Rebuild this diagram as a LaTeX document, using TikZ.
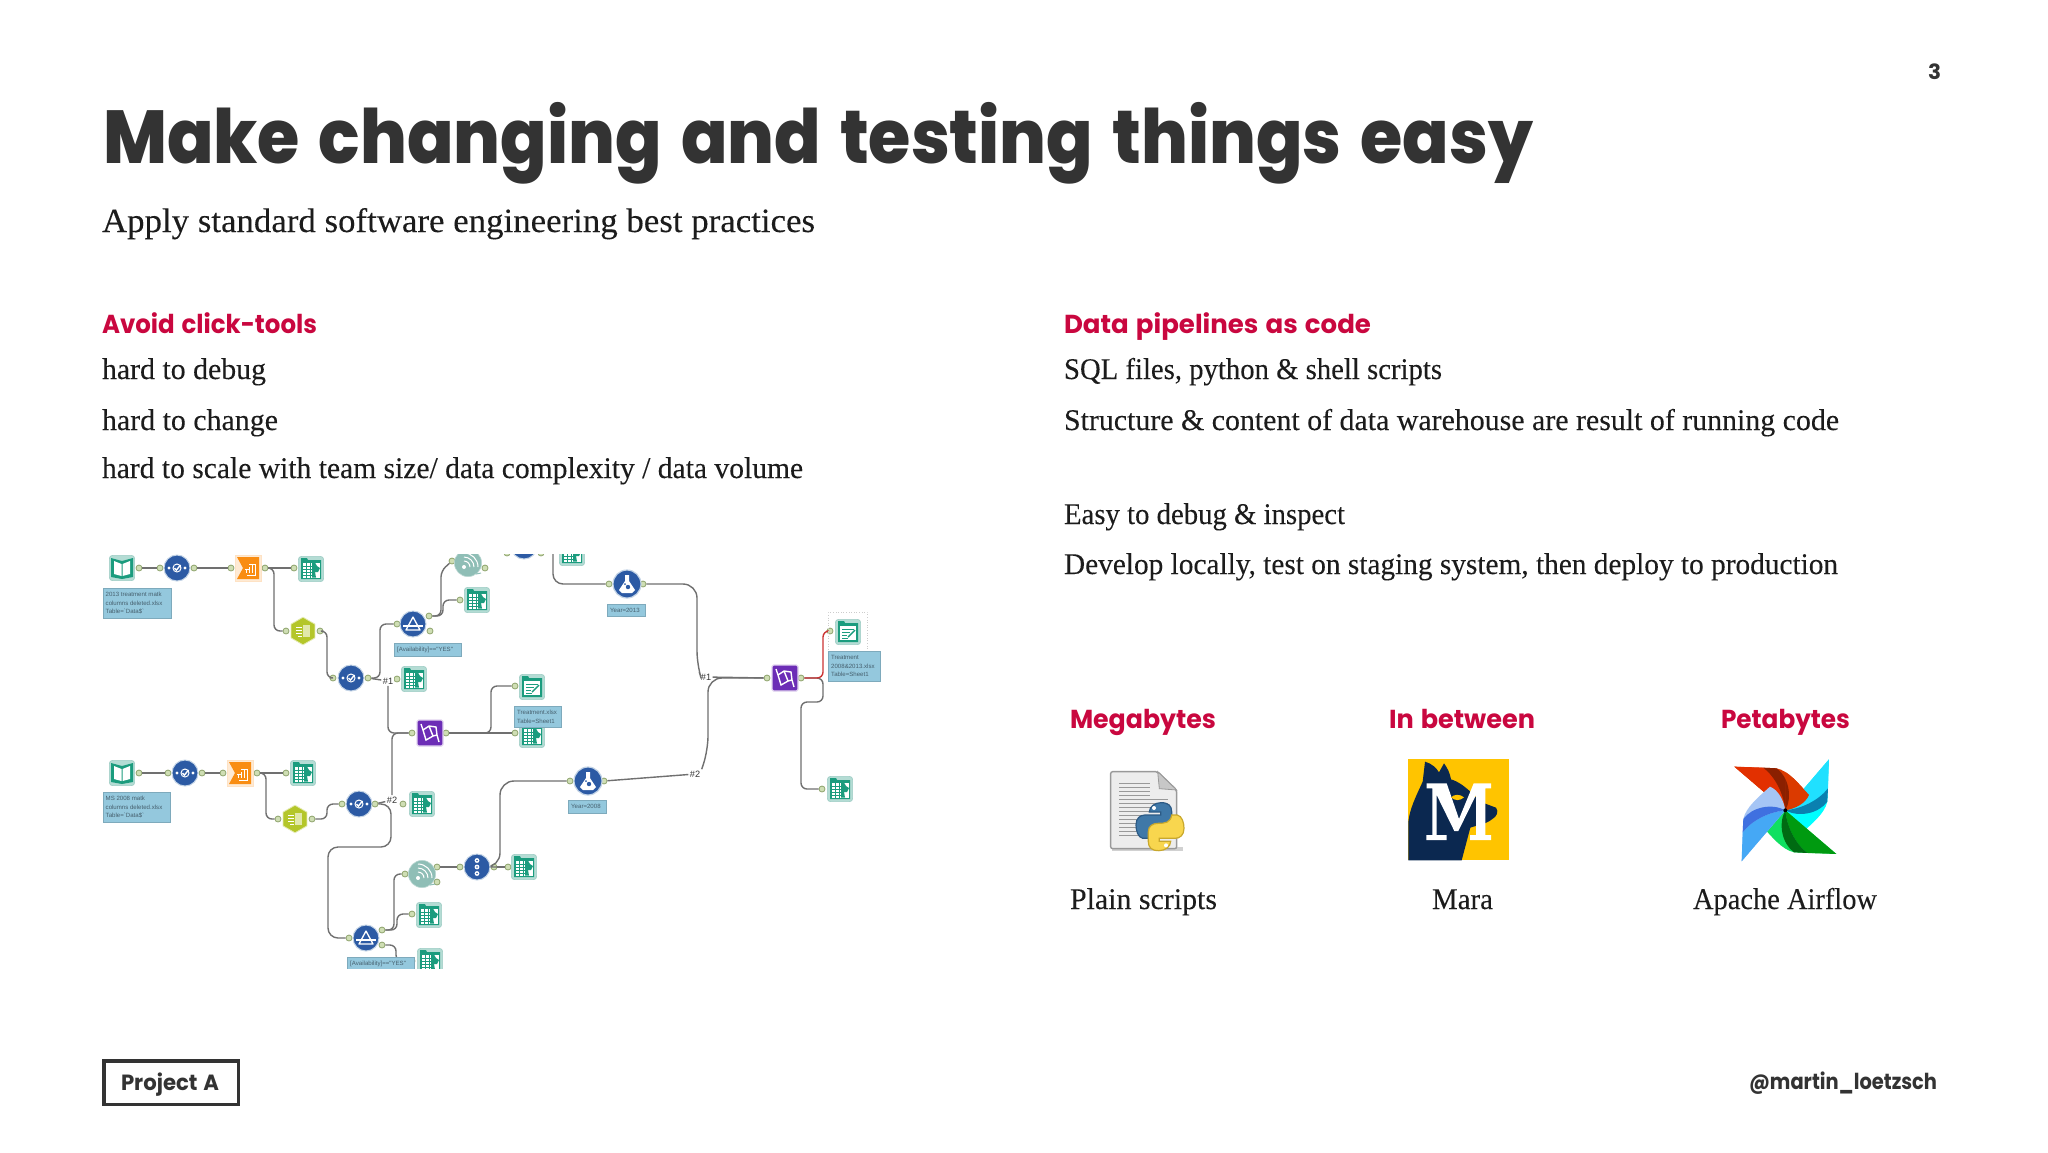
\documentclass[tikz,border=0pt]{standalone}
\usepackage{graphicx}
\usepackage{fontspec}
\setmainfont{Liberation Serif}[FakeBold=0.12]
\newfontfamily\heavy{Poppins}[UprightFont=* ExtraBold,WordSpace=1.45]
\newfontfamily\semi{Poppins}[UprightFont=* Bold,WordSpace=1.3]
\newfontfamily\notef{Liberation Sans}
\usetikzlibrary{shapes.geometric}
\definecolor{ink}{HTML}{333333}
\definecolor{crim}{HTML}{C9073F}
\definecolor{bodyc}{HTML}{1C1C1C}
\definecolor{wirec}{HTML}{707070}
\definecolor{tabbg}{HTML}{B4DCD4}
\definecolor{tabedge}{HTML}{9CCBC3}
\definecolor{teal1}{HTML}{1B9C7E}
\definecolor{blue1}{HTML}{2C5AA4}
\definecolor{halo}{HTML}{C4D4E6}
\definecolor{orange1}{HTML}{F98D12}
\definecolor{lime1}{HTML}{B4C62A}
\definecolor{purple1}{HTML}{6C2DB6}
\definecolor{spiralc}{HTML}{8FBEB6}
\definecolor{notebg}{HTML}{94C8DD}
\definecolor{notetx}{HTML}{46606E}
\definecolor{portf}{HTML}{CFDEB4}
\definecolor{porte}{HTML}{8FA46E}
\definecolor{maray}{HTML}{FFC400}
\definecolor{maran}{HTML}{0B2850}
\definecolor{pyb}{HTML}{3F78A8}
\definecolor{pybe}{HTML}{2C5A85}
\definecolor{pyy}{HTML}{F8D64E}
\definecolor{pyye}{HTML}{C9A82C}
\definecolor{wr1}{HTML}{E23000}
\definecolor{wr2}{HTML}{8B2000}
\definecolor{wr3}{HTML}{DB3A00}
\definecolor{wc1}{HTML}{20E0FF}
\definecolor{wc2}{HTML}{0A80B0}
\definecolor{wc3}{HTML}{00FFFF}
\definecolor{wg1}{HTML}{009A10}
\definecolor{wg2}{HTML}{006B12}
\definecolor{wg3}{HTML}{10E060}
\definecolor{wb1}{HTML}{45A8F5}
\definecolor{wb2}{HTML}{3F70E0}
\definecolor{wb3}{HTML}{A5C5F5}
\newcommand\fitw[2]{\setbox0=\hbox{#2}\pgfmathsetmacro\fitff{#1*0.5/\the\wd0}\scalebox{\fitff}[1]{\box0}}
\tikzset{
  txt/.style={anchor=base west,inner sep=0pt,outer sep=0pt},
  wire/.style={draw=wirec,line width=.7pt,rounded corners=3pt},
  portn/.style={circle,inner sep=0pt,minimum size=3pt,fill=portf,draw=porte,line width=.4pt},
  iconbg/.style={rectangle,rounded corners=1.5pt,minimum size=12.6pt,inner sep=0pt,fill=tabbg,draw=tabedge,line width=.3pt},
  notebox/.style={anchor=north west,inner sep=0pt,fill=notebg,draw=notebg!85!black,line width=.2pt},
  lbl/.style={inner sep=.6pt,fill=white,font=\notef\fontsize{4.6}{5.5}\selectfont,text=ink},
}
\newcommand\noteb[6]{% name,x1,y1,w,h,text
  \node[notebox,minimum width=#4*.5pt,minimum height=#5*.5pt] (#1) at (#2,#3) {};
  \node[anchor=west,inner sep=0pt,align=left,text=notetx,font=\notef\fontsize{3.05}{4.2}\selectfont] at ([xshift=1.4pt]#1.west) {#6};}
\newcommand\tabicon[3]{\node[iconbg] (#1) at (#2,#3) {};
  \begin{scope}[shift={(#2,#3)}]
   \fill[teal1] (-10,-11) -- (-4,-11) -- (-3,-9) -- (10,-9) -- (10,10) -- (-10,10) -- cycle;
   \fill[white] (-8.5,-6.5) rectangle (8.5,8.5);
   \foreach \yy in {-3,0,3,6}{\draw[teal1,line width=.3pt] (-8.5,\yy) -- (1,\yy);}
   \foreach \xx in {-5,-1}{\draw[teal1,line width=.3pt] (\xx,-6.5) -- (\xx,8.5);}
   \fill[teal1] (1,-6.5) -- (4,-6.5) -- (6,-3) -- (9,-1) -- (7,3) -- (4,3) -- (5,8.5) -- (1,8.5) -- cycle;
  \end{scope}}
\newcommand\bookicon[3]{\node[iconbg] (#1) at (#2,#3) {};
  \begin{scope}[shift={(#2,#3)}]
   \fill[teal1] (-11,-10) -- (0,-7) -- (11,-10) -- (11,9) -- (0,11) -- (-11,9) -- cycle;
   \fill[white] (-8,-7) -- (-.5,-4) -- (-.5,8) -- (-8,6) -- cycle;
   \fill[white] (8,-7) -- (.5,-4) -- (.5,8) -- (8,6) -- cycle;
  \end{scope}}
\newcommand\selicon[3]{\node[circle,inner sep=0pt,minimum size=13pt,fill=blue1,draw=halo,line width=.5pt] (#1) at (#2,#3) {};
  \begin{scope}[shift={(#2,#3)}]
   \fill[white] (-8,0) circle (1.7) (8,0) circle (1.7);
   \draw[white,line width=.5pt] (0,0) circle (4);
   \draw[white,line width=.7pt] (-2.5,0) -- (-.5,2) -- (3.5,-3);
  \end{scope}}
\newcommand\orangeicon[3]{\node[rectangle,inner sep=0pt,minimum size=13pt,fill=orange1!18,draw=orange1!25,line width=.3pt] (#1) at (#2,#3) {};
  \begin{scope}[shift={(#2,#3)}]
   \fill[orange1] (-11,-11) -- (11,-11) -- (11,11) -- (-11,11) -- (-5,0) -- cycle;
   \foreach \xx/\yy in {-2/2,1/-1,4/-4}{\draw[white,line width=.35pt] (\xx,5) -- (\xx,\yy);}
   \draw[white,line width=.35pt] (-3,1) -- (2,1) (1,-4) -- (7,-4) -- (7,7) -- (-1,7);
  \end{scope}}
\newcommand\hexicon[3]{\node[regular polygon,regular polygon sides=6,shape border rotate=30,inner sep=0pt,minimum size=13.8pt,fill=lime1,draw=lime1!35,line width=.4pt] (#1) at (#2,#3) {};
  \begin{scope}[shift={(#2,#3)}]
   \draw[white,line width=.5pt] (-7,-4) -- (-1,-4) (-7,-1) -- (-1,-1) (-7,2) -- (-1,2) (-5,5) -- (-1,5);
   \fill[lime1!40!white] (0,-6) rectangle (7,6);
  \end{scope}}
\newcommand\filticon[3]{\node[circle,inner sep=0pt,minimum size=13pt,fill=blue1,draw=halo,line width=.5pt] (#1) at (#2,#3) {};
  \begin{scope}[shift={(#2,#3)}]
   \draw[white,line width=.65pt,line join=round] (0,-7) -- (-7,6) -- (7,6) -- cycle;
   \draw[white,line width=.65pt] (-10,2) -- (10,2);
  \end{scope}}
\newcommand\flaskicon[3]{\node[circle,inner sep=0pt,minimum size=14pt,fill=blue1,draw=halo,line width=.6pt] (#1) at (#2,#3) {};
  \begin{scope}[shift={(#2,#3)}]
   \fill[white] (-2,-9) -- (2,-9) -- (2,-3) -- (8,6) -- (5,9) -- (-5,9) -- (-8,6) -- (-2,-3) -- cycle;
   \fill[blue1] (1,3) circle (2.2) (-2,0) circle (1);
  \end{scope}}
\newcommand\spiralicon[3]{\node[circle,inner sep=0pt,minimum size=13.6pt,fill=spiralc,draw=spiralc!60,line width=.3pt] (#1) at (#2,#3) {};
  \begin{scope}[shift={(#2,#3)}]
   \fill[white] (-4,4) circle (2);
   \draw[white,line width=.5pt] (-4,4) ++(-90:6) arc[start angle=-90,end angle=0,radius=6];
   \draw[white,line width=.5pt] (-4,4) ++(-90:10) arc[start angle=-90,end angle=0,radius=10];
   \draw[white,line width=.5pt] (-4,4) ++(-90:14) arc[start angle=-90,end angle=0,radius=14];
   \draw[spiralc,line width=.5pt] (8,11) -- (13,10);
  \end{scope}}
\newcommand\dotsicon[3]{\node[circle,inner sep=0pt,minimum size=13pt,fill=blue1,draw=halo,line width=.5pt] (#1) at (#2,#3) {};
  \begin{scope}[shift={(#2,#3)}]
   \fill[white] (0,-6.5) circle (2.4) (0,0) circle (2.4) (0,6.5) circle (2.4);
   \fill[blue1] (0,-6.5) circle (.9) (0,0) circle (.9) (0,6.5) circle (.9);
  \end{scope}}
\newcommand\purpicon[3]{\node[rectangle,rounded corners=.8pt,inner sep=0pt,minimum size=13pt,fill=purple1,draw=purple1!20,line width=.6pt] (#1) at (#2,#3) {};
  \begin{scope}[shift={(#2,#3)}]
   \draw[white,line width=.7pt] (-9,-9) -- (-7,-3) -- (-4,7) -- (3,3) -- (7,2) -- (9,9) (-7,-3) -- (-1,-7) -- (6,-6) -- (7,2) (-1,-7) -- (3,3);
  \end{scope}}
\newcommand\outicon[3]{\node[iconbg] (#1) at (#2,#3) {};
  \begin{scope}[shift={(#2,#3)}]
   \fill[teal1] (-10,-11) -- (-4,-11) -- (-3,-9) -- (10,-9) -- (10,10) -- (-10,10) -- cycle;
   \fill[white] (-8,-6.5) rectangle (8,8);
   \draw[teal1,line width=.45pt] (-6,-3) -- (6,-3) (-6,0) -- (2,0) (-6,3) -- (-1,3) (-6,6) -- (0,6);
   \draw[teal1,line width=.7pt] (0,5) -- (7,-2);
  \end{scope}}
\newcommand\port[3]{\node[portn] (#1) at (#2,#3) {};}
\newcommand\blade[3]{%
  \fill[#3] (-153,-131) .. controls (-100,-128) and (-60,-128) .. (-26,-126) .. controls (10,-118) and (40,-80) .. (71,-46) .. controls (60,-20) and (30,-5) .. (0,0) -- cycle;
  \fill[#1] (-153,-131) -- (-66,-128) .. controls (-30,-100) and (-5,-50) .. (0,0) -- cycle;
  \fill[#2] (-66,-128) .. controls (-30,-100) and (-5,-50) .. (0,0) .. controls (22,-40) and (10,-100) .. (-26,-126) -- cycle;}
\begin{document}
\begin{tikzpicture}[x=.5pt,y=-.5pt]
\useasboundingbox (0,0) rectangle (2048,1152);
\fill[white] (0,0) rectangle (2048,1152);
% --- texts
\node[txt,text=ink] (pageno) at (1928,79.5) {\fitw{13}{\semi\fontsize{10.5}{12}\selectfont 3}};
\node[txt,text=ink] (title) at (103,163) {\fitw{1430}{\heavy\fontsize{37.5}{44}\selectfont Make changing and testing things easy}};
\node[txt,text=bodyc] (sub) at (102,232) {\fitw{713}{\fontsize{17}{20}\selectfont Apply standard software engineering best practices}};
\node[txt,text=crim] (h1) at (102,333) {\fitw{215}{\semi\fontsize{13}{15}\selectfont Avoid click-tools}};
\node[txt,text=bodyc] (l1) at (102,379) {\fitw{164}{\fontsize{15}{18}\selectfont hard to debug}};
\node[txt,text=bodyc] (l2) at (102,430) {\fitw{176}{\fontsize{15}{18}\selectfont hard to change}};
\node[txt,text=bodyc] (l3) at (102,478) {\fitw{701}{\fontsize{15}{18}\selectfont hard to scale with team size/ data complexity / data volume}};
\node[txt,text=crim] (h2) at (1064,333) {\fitw{307}{\semi\fontsize{13}{15}\selectfont Data pipelines as code}};
\node[txt,text=bodyc] (r1) at (1064,379) {\fitw{378}{\fontsize{15}{18}\selectfont SQL files, python \& shell scripts}};
\node[txt,text=bodyc] (r2) at (1064,430) {\fitw{775}{\fontsize{15}{18}\selectfont Structure \& content of data warehouse are result of running code}};
\node[txt,text=bodyc] (r3) at (1064,524) {\fitw{281}{\fontsize{15}{18}\selectfont Easy to debug \& inspect}};
\node[txt,text=bodyc] (r4) at (1064,574) {\fitw{774}{\fontsize{15}{18}\selectfont Develop locally, test on staging system, then deploy to production}};
\node[txt,text=crim] (m1) at (1070,728) {\fitw{146}{\semi\fontsize{13}{15}\selectfont Megabytes}};
\node[txt,text=crim] (m2) at (1389,728) {\fitw{146}{\semi\fontsize{13}{15}\selectfont In between}};
\node[txt,text=crim] (m3) at (1721,728) {\fitw{129}{\semi\fontsize{13}{15}\selectfont Petabytes}};
\node[txt,text=bodyc] (c1) at (1070,909) {\fitw{147}{\fontsize{15}{18}\selectfont Plain scripts}};
\node[txt,text=bodyc] (c2) at (1432,909) {\fitw{61}{\fontsize{15}{18}\selectfont Mara}};
\node[txt,text=bodyc] (c3) at (1693,909) {\fitw{184}{\fontsize{15}{18}\selectfont Apache Airflow}};
\node[anchor=north west,inner sep=0pt,draw=ink,line width=1.75pt,minimum width=67.25pt,minimum height=21.75pt] (proj) at (102,1059) {};
\node[txt,text=ink] (projt) at (121,1090) {\fitw{98}{\semi\fontsize{11}{13}\selectfont Project A}};
\node[txt,text=ink] (handle) at (1749,1089) {\fitw{188}{\semi\fontsize{11}{13}\selectfont @martin\_loetzsch}};
% --- workflow screenshot
\begin{scope}
\clip (95,554) rectangle (895,968);
% row 1
\port{a1}{139}{568}\port{a2}{160}{568}\port{a3}{194}{568}\port{a4}{231}{568}\port{a5}{265}{568}\port{a6}{294}{568}
\port{hi}{286}{631}\port{ho}{320}{631}\port{bi}{333}{678}\port{bo}{368}{678}
\port{fi}{397}{624}\port{ft}{429}{616}\port{ff}{430}{631}\port{ti}{397}{679}\port{t2i}{460}{600}
\port{si}{452}{561}\port{so}{485}{568}\port{pi}{412}{733}\port{po}{446}{733}\port{oi}{515}{686}\port{t3i}{515}{733}
\port{q1}{507}{553}\port{q2}{541}{553}
% row 2
\port{c1p}{139}{773}\port{c2p}{168}{773}\port{c3p}{202}{773}\port{c4p}{223}{773}\port{c5p}{257}{773}\port{c6p}{286}{773}
\port{hhi}{278}{819}\port{hho}{312}{819}\port{di}{342}{804}\port{do}{375}{804}\port{t4i}{403}{804}
\port{gi}{349}{938}\port{gt}{382}{930}\port{gf}{382}{945}\port{t5i}{412}{914}\port{t6i}{412}{961}
\port{s2i}{405}{874}\port{s2o}{437}{867}\port{s2b}{437}{882}\port{ei}{460}{867}\port{eo}{494}{867}\port{t7i}{508}{867}
\port{y8i}{570}{781}\port{y8o}{604}{781}\port{y3i}{609}{584}\port{y3o}{643}{584}
\port{p2i}{767}{678}\port{p2o}{801}{678}\port{o2i}{830}{631}\port{t9i}{822}{789}
\coordinate (topw) at (553,550);
% connectors
\draw[wire] (a1) -- (a2);
\draw[wire] (a3) -- (a4);
\draw[wire] (a5) -- (a6);
\draw[wire] (a5) -- ++(9,0) |- (hi);
\draw[wire] (ho) -- ++(7,0) |- (bi);
\draw[wire] (bo) -- ++(12,0) |- (fi);
\node[lbl] (n1) at (388,681) {\#1};
\node[lbl] (n2) at (392,800) {\#2};
\node[lbl] (n3) at (706,677) {\#1};
\node[lbl] (n4) at (695,774) {\#2};
\draw[wire] (bo) -- (n1);
\draw[wire] (n1.south) |- (pi);
\draw[wire] (ft) -- ++(12,0) -- ++(0,-45) -- (si);
\draw[wire] (ft) -- ++(14,0) |- (t2i);
\draw[wire] (po) -- (t3i);
\draw[wire] (po) -- ++(45,0) |- (oi);
\draw[wire] (c1p) -- (c2p);
\draw[wire] (c3p) -- (c4p);
\draw[wire] (c5p) -- (c6p);
\draw[wire] (c5p) -- ++(9,0) |- (hhi);
\draw[wire] (hho) -- ++(15,0) |- (di);
\draw[wire] (do) -- (n2);
\draw[wire] (n2.north) |- (pi);
\draw[wire,rounded corners=5pt] (do) -- ++(16,0) -- ++(0,43) -- (328,847) |- (gi);
\draw[wire] (gt) -- ++(12,0) |- (s2i);
\draw[wire] (gt) -- ++(15,0) |- (t5i);
\draw[wire] (gf) -- ++(14,0) |- (t6i);
\draw[wire] (s2o) -- (ei);
\draw[wire] (eo) -- (t7i);
\draw[wire,rounded corners=7pt] (eo) -- ++(6,0) |- (y8i);
\draw[wire] (y8o) -- (n4);
\draw[wire,rounded corners=7pt] (n4.north east) -- (708,750) |- (p2i);
\draw[wire,rounded corners=5pt] (topw) |- (y3i);
\draw[wire,rounded corners=7pt] (y3o) -| (697,665) -- (n3.north west);
\draw[wire] (n3) -- (p2i);
\draw[wire] (p2o) -- ++(22,0) -- ++(0,24) -- (801,702) |- (t9i);
\draw[wire,draw=red!60!gray] (p2o) -- ++(22,0) |- (o2i);
% icons
\bookicon{b1}{122}{568}\selicon{s1}{177}{568}\orangeicon{o1}{248}{568}\tabicon{t1}{311}{569}
\noteb{nb1}{102.5}{588}{68}{30}{2013 treatment matk\\columns deleted.xlsx\\Table=`Data\$`}
\hexicon{hx1}{303}{631}\selicon{s2}{351}{678}\filticon{f1}{413}{624}\tabicon{t2}{414}{679}
\noteb{nb2}{394}{643}{67}{13}{[Availability]=="YES"}
\spiralicon{sp1}{468}{563}\tabicon{t3}{477}{600}\filticon{q}{524}{546}\tabicon{t4}{572}{553}
\outicon{ou1}{532}{687}\tabicon{t5}{532}{735}
\noteb{nb3}{514}{706}{47}{21}{Treatment.xlsx\\Table=Sheet1}
\purpicon{pu1}{430}{733}
\bookicon{b2}{122}{773}\selicon{s3}{185}{773}\orangeicon{o2}{240}{773}\tabicon{t6}{303}{773}
\noteb{nb4}{102.5}{792}{67}{30}{MS 2008 matk\\columns deleted.xlsx\\Table=`Data\$`}
\hexicon{hx2}{295}{819}\selicon{s4}{359}{804}\tabicon{t7}{422}{804}
\spiralicon{sp2}{422}{874}\dotsicon{d1}{477}{867}\tabicon{t8}{524}{867}
\filticon{f2}{366}{938}\tabicon{t9}{429}{915}\tabicon{t10}{430}{961}
\noteb{nb5}{347}{957}{67}{14}{[Availability]=="YES"}
\flaskicon{fl1}{627}{584}\noteb{nb6}{607}{604}{38}{12}{Year=2013}
\flaskicon{fl2}{588}{781}\noteb{nb7}{568}{800}{38}{13}{Year=2008}
\purpicon{pu2}{785}{678}
\node[anchor=north west,inner sep=0pt,minimum width=19.5pt,minimum height=19.5pt,draw=gray!40,densely dotted,line width=.3pt] (sel) at (828,612) {};
\outicon{ou2}{848}{632}
\noteb{nb8}{828}{651}{52}{30}{Treatment\\2008\&2013.xlsx\\Table=Sheet1}
\tabicon{t11}{840}{789}
\end{scope}
% --- plain scripts logo
\begin{scope}[shift={(1060,690)},scale=.3333]
 \fill[black!18] (155,470) rectangle (368,482);
 \path[fill=black!7,draw=black!40,line width=.7pt,rounded corners=1pt] (152,245) -- (293,245) -- (350,300) -- (350,476) -- (152,476) -- cycle;
 \path[fill=black!22,draw=black!40,line width=.4pt] (293,245) -- (350,300) -- (298,296) -- cycle;
 \foreach \yy in {280,292,304,316}{\draw[black!40,line width=.6pt] (178,\yy) -- (270,\yy);}
 \foreach \yy in {328,340,352,364,376,388,400,412,424,436}{\draw[black!40,line width=.6pt] (178,\yy) -- (325,\yy);}
 \path[fill=pyb,draw=pybe,line width=.6pt] (303,338) .. controls (325,338) and (335,347) .. (335,365) -- (335,395) .. controls (335,412) and (322,420) .. (305,420) .. controls (285,420) and (268,422) .. (265,445) -- (248,445) .. controls (234,442) and (228,422) .. (228,405) .. controls (228,385) and (240,375) .. (255,375) -- (302,375) -- (302,366) -- (268,366) .. controls (268,350) and (285,338) .. (303,338) -- cycle;
 \path[fill=pyy,draw=pyye,line width=.6pt] (297,482) .. controls (275,482) and (265,473) .. (265,455) -- (265,425) .. controls (265,408) and (278,400) .. (295,400) .. controls (315,400) and (332,398) .. (335,375) -- (352,375) .. controls (366,378) and (372,398) .. (372,415) .. controls (372,435) and (360,445) .. (345,445) -- (298,445) -- (298,454) -- (332,454) .. controls (332,470) and (315,482) .. (297,482) -- cycle;
 \fill[white] (282,354) circle (6) (318,466) circle (6);
\end{scope}
% --- Mara logo
\begin{scope}[shift={(1395,745)},scale=.3333]
 \fill[maray] (40,43) rectangle (343,346);
 \fill[maran] (40,346) -- (40,230) .. controls (45,190) and (60,160) .. (83,110) -- (90,50) .. controls (110,55) and (125,70) .. (132,82) -- (147,55) .. controls (158,70) and (165,85) .. (168,103) .. controls (190,110) and (215,125) .. (255,170) -- (303,188) .. controls (312,200) and (305,215) .. (292,222) .. controls (270,240) and (245,240) .. (226,248) -- (200,346) -- cycle;
 \fill[white] (95,115) -- (155,115) -- (192,222) -- (236,115) -- (288,115) -- (288,130) -- (271,130) -- (271,270) -- (288,270) -- (288,285) -- (225,285) -- (225,270) -- (243,270) -- (243,150) -- (190,258) -- (178,258) -- (125,150) -- (125,270) -- (155,270) -- (155,285) -- (94,285) -- (94,270) -- (112,270) -- (112,130) -- (95,130) -- cycle;
 \fill[maray] (168,157) .. controls (178,147) and (195,147) .. (207,157) .. controls (195,168) and (180,168) .. (168,157) -- cycle;
\end{scope}
% --- pinwheel
\begin{scope}[shift={(1785.3,810.3)},scale=.3333]
 \begin{scope}\blade{wr1}{wr2}{wr3}\end{scope}
 \begin{scope}[rotate=-90]\blade{wc1}{wc2}{wc3}\end{scope}
 \begin{scope}[rotate=-180]\blade{wg1}{wg2}{wg3}\end{scope}
 \begin{scope}[rotate=-270]\blade{wb1}{wb2}{wb3}\end{scope}
 \begin{scope}\clip (2,-150) rectangle (100,0);\blade{wr1}{wr2}{wr3}\end{scope}
 \fill[black] (0,0) circle (6);
\end{scope}
\end{tikzpicture}
\end{document}
